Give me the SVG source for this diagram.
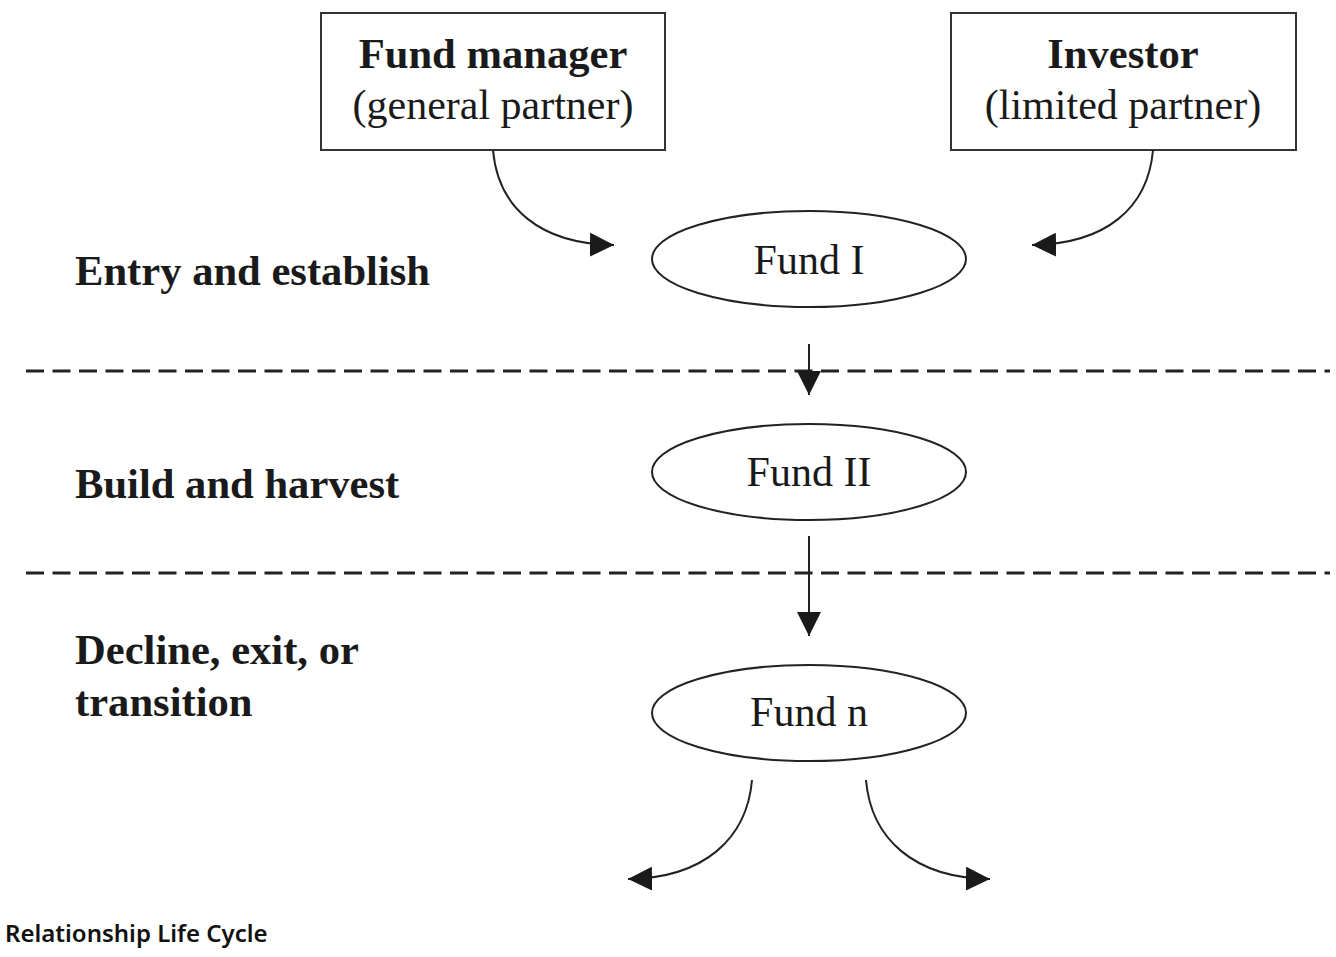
<svg xmlns="http://www.w3.org/2000/svg" width="1336" height="957" viewBox="0 0 1336 957">
<style>
.box{fill:#fff;stroke:#333;stroke-width:2}
.ell{fill:#fff;stroke:#222;stroke-width:2}
.b{font-family:"Liberation Serif","Times New Roman",serif;font-weight:bold;font-size:42.6px;fill:#1a1a1a}
.r{font-family:"Liberation Serif","Times New Roman",serif;font-size:42px;fill:#1a1a1a}
.c{text-anchor:middle}
.con{fill:none;stroke:#222;stroke-width:2}
.dash{fill:none;stroke:#222;stroke-width:3;stroke-dasharray:18 8.5}
.cap{font-family:"Noto Sans","Open Sans",sans-serif;font-weight:600;font-size:24px;fill:#111}
</style>
<defs>
<marker id="ah" viewBox="0 0 24 24" refX="24" refY="12" markerWidth="24" markerHeight="24" markerUnits="userSpaceOnUse" orient="auto">
<path d="M0,0 L24,12 L0,24 Z" fill="#1a1a1a"/>
</marker>
</defs>
<g id="separators">
<line class="dash" x1="26" y1="371" x2="1330" y2="371"/>
<line class="dash" x1="26" y1="573" x2="1330" y2="573"/>
</g>
<g id="fund-manager">
<rect class="box" x="321" y="13" width="344" height="137"/>
<text class="b c" x="493" y="68">Fund manager</text>
<text class="r c" x="493" y="119">(general partner)</text>
</g>
<g id="investor">
<rect class="box" x="951" y="13" width="345" height="137"/>
<text class="b c" x="1123" y="68">Investor</text>
<text class="r c" x="1123" y="119">(limited partner)</text>
</g>
<g id="fund-1">
<ellipse class="ell" cx="809" cy="259" rx="157" ry="48"/>
<text class="r c" x="809" y="274">Fund I</text>
</g>
<g id="fund-2">
<ellipse class="ell" cx="809" cy="472" rx="157" ry="48"/>
<text class="r c" x="809" y="486">Fund II</text>
</g>
<g id="fund-n">
<ellipse class="ell" cx="809" cy="713" rx="157" ry="48"/>
<text class="r c" x="809" y="726">Fund n</text>
</g>
<g id="stage-labels">
<text class="b" x="75" y="285">Entry and establish</text>
<text class="b" x="75" y="498">Build and harvest</text>
<text class="b" x="75" y="664">Decline, exit, or</text>
<text class="b" x="75" y="716">transition</text>
</g>
<g id="connectors">
<path class="con" d="M493,150 C498,208 540,244 614,245" marker-end="url(#ah)"/>
<path class="con" d="M1153,150 C1148,208 1106,244 1032,245" marker-end="url(#ah)"/>
<path class="con" d="M809,344 L809,395" marker-end="url(#ah)"/>
<path class="con" d="M809,536 L809,636" marker-end="url(#ah)"/>
<path class="con" d="M752,780 C747,838 705,878 628,879" marker-end="url(#ah)"/>
<path class="con" d="M866,780 C871,838 913,878 990,879" marker-end="url(#ah)"/>
</g>
<text class="cap" x="5" y="942">Relationship Life Cycle</text>
</svg>
